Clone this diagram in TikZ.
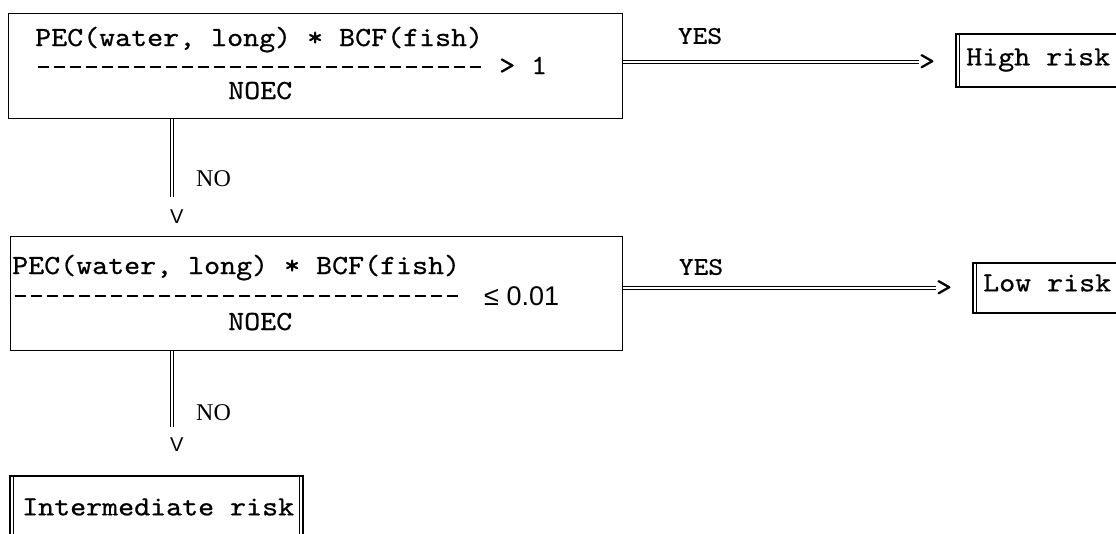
\documentclass[tikz,border=0pt]{standalone}
\usepackage{fontspec}
\newfontfamily\cour{lmmono10-regular}[Extension=.otf,FakeStretch=1.1,FakeBold=0.6]
\newfontfamily\lsans{Liberation Sans}
\newfontfamily\lserif{Liberation Serif}
\begin{document}
\begin{tikzpicture}[x=1pt,y=-1pt,
  mono/.style={font=\cour\fontsize{27.7}{30}\selectfont, inner sep=0pt, anchor=base west},
  yeslbl/.style={font=\cour\fontsize{25.5}{28}\selectfont, inner sep=0pt},
  nolbl/.style={font=\lserif\fontsize{24}{28}\selectfont, inner sep=0pt, anchor=west},
  vtip/.style={font=\lsans\fontsize{20}{24}\selectfont, inner sep=0pt, anchor=west},
  tip/.style={font=\cour\fontsize{27.7}{30}\selectfont, inner sep=0pt},
  condbox/.style={draw, line width=1.3pt, inner sep=0pt, anchor=north west},
  boxline/.style={line width=1.3pt},
  thinline/.style={line width=1pt},
  fracbar/.style={dash pattern=on 11pt off 5pt, line width=1.8pt},
  dbl/.style={double, double distance=2pt, line width=0.8pt},
  ]
\useasboundingbox[fill=white] (0,0) rectangle (1116,533);

% ---------- condition box 1 ----------
\node[condbox, minimum width=614pt, minimum height=105pt] (b1) at (8,13) {};
\node[mono] (b1t) at (35,46) {PEC(water, long) * BCF(fish)};
\draw[fracbar] (37.5,67) -- (482,67);
\node[mono] (b1g) at (499,74) {> 1};
\node[mono] (b1n) at (228,99) {NOEC};

% YES arrow 1
\node[yeslbl] (yes1) at (700,36) {YES};
\node[tip] (t1) at (927,62) {>};
\draw[dbl] (b1.east |- t1.west) -- (t1.west);

% High risk
\node[mono, anchor=west] (high) at (966,60) {High risk};
\draw[boxline] (1116,34) -- (956,34) -- (956,87) -- (1116,87);
\draw[thinline] (959.5,34) -- (959.5,87);

% NO arrow 1
\node[vtip] (v1) at (170,217) {V};
\coordinate (e1) at (172,197);
\draw[dbl] (b1.south -| e1) -- (e1);
\node[nolbl] (no1) at (196,179) {NO};

% ---------- condition box 2 ----------
\node[condbox, minimum width=612pt, minimum height=114pt] (b2) at (10,236) {};
\node[mono] (b2t) at (12,274) {PEC(water, long) * BCF(fish)};
\draw[fracbar] (14.5,296) -- (460,296);
\node[font=\lsans\fontsize{27}{30}\selectfont, inner sep=0pt, anchor=base west] (b2g) at (484,305) {≤ 0.01};
\node[mono] (b2n) at (228,330) {NOEC};

% YES arrow 2
\node[yeslbl] (yes2) at (701,267) {YES};
\node[tip] (t2) at (944,288) {>};
\draw[dbl] (b2.east |- t2.west) -- (t2.west);

% Low risk
\node[mono, anchor=west] (low) at (983,283) {Low risk};
\draw[boxline] (1116,263) -- (973,263) -- (973,313) -- (1116,313);
\draw[thinline] (976.5,263) -- (976.5,313);

% NO arrow 2
\node[vtip] (v2) at (170,445) {V};
\coordinate (e2) at (172,427);
\draw[dbl] (b2.south -| e2) -- (e2);
\node[nolbl] (no2) at (196,413) {NO};

% Intermediate risk
\node[mono, anchor=west] (mid) at (22,507) {Intermediate risk};
\draw[boxline] (10,540) -- (10,476) -- (303,476) -- (303,540);
\draw[thinline] (13.5,476) -- (13.5,540);
\draw[thinline] (299.5,476) -- (299.5,540);
\end{tikzpicture}
\end{document}
